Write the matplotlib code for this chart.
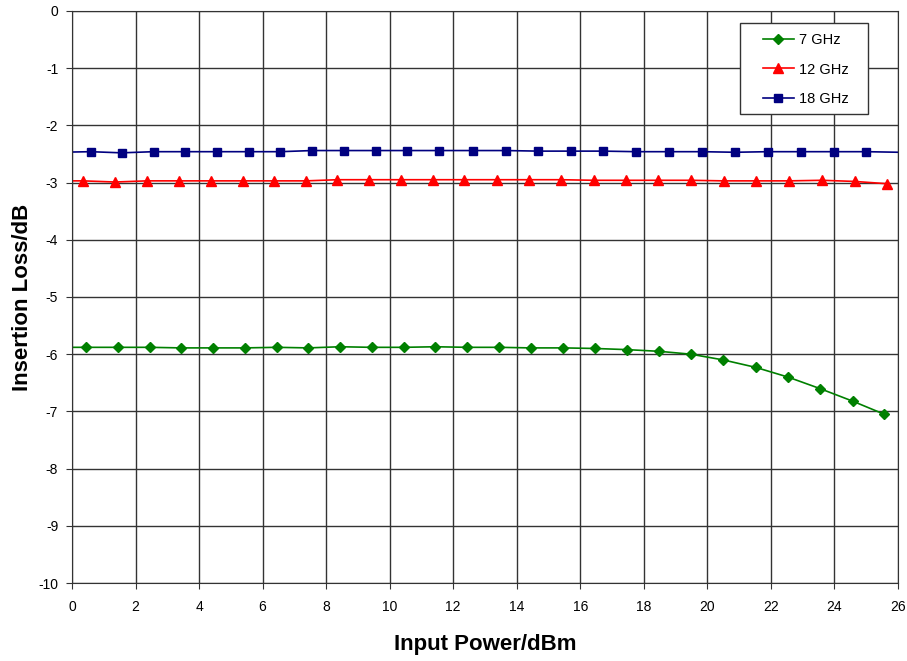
import numpy as np
import matplotlib
matplotlib.use('Agg')
import matplotlib.pyplot as plt
from matplotlib.patches import Rectangle

plt.rcParams['font.family'] = ['Liberation Sans', 'DejaVu Sans']
plt.rcParams['axes.unicode_minus'] = False

# 7 GHz (first point lies just left of the axis, drawn as line only)
x_7 = [-0.56, 0.44, 1.44, 2.44, 3.44, 4.44, 5.44, 6.44, 7.44, 8.44, 9.44, 10.44, 11.44, 12.44,
       13.44, 14.44, 15.46, 16.46, 17.46, 18.49, 19.48, 20.5, 21.52, 22.54, 23.54, 24.57, 25.57]
y_7 = [-5.88, -5.88, -5.88, -5.88, -5.89, -5.89, -5.89, -5.88, -5.89, -5.87, -5.88, -5.88, -5.87, -5.88,
       -5.88, -5.89, -5.89, -5.90, -5.92, -5.95, -6.00, -6.10, -6.23, -6.40, -6.60, -6.82, -7.05]

# 12 GHz
x_12 = [-0.66, 0.34, 1.36, 2.36, 3.37, 4.36, 5.37, 6.37, 7.37, 8.35, 9.36, 10.36, 11.37, 12.35,
        13.37, 14.38, 15.4, 16.42, 17.43, 18.45, 19.48, 20.51, 21.53, 22.58, 23.6, 24.64, 25.66]
y_12 = [-2.97, -2.97, -2.99, -2.97, -2.97, -2.97, -2.97, -2.97, -2.97, -2.95, -2.95, -2.95, -2.95, -2.95,
        -2.95, -2.95, -2.95, -2.96, -2.96, -2.96, -2.96, -2.97, -2.97, -2.97, -2.96, -2.98, -3.02]

# 18 GHz (first and last points lie outside the axis)
x_18 = [-0.42, 0.59, 1.56, 2.57, 3.57, 4.57, 5.57, 6.55, 7.56, 8.56, 9.56, 10.56, 11.55, 12.61,
        13.65, 14.68, 15.7, 16.72, 17.77, 18.79, 19.84, 20.87, 21.9, 22.94, 23.98, 25.01, 26.03]
y_18 = [-2.47, -2.46, -2.48, -2.46, -2.46, -2.46, -2.46, -2.46, -2.44, -2.44, -2.44, -2.44, -2.44, -2.44,
        -2.44, -2.45, -2.45, -2.45, -2.46, -2.46, -2.46, -2.47, -2.46, -2.46, -2.46, -2.46, -2.47]

fig = plt.figure(figsize=(9.07, 6.61), dpi=100)
ax = fig.add_axes([0.0794, 0.118, 0.9106, 0.8654])

ax.plot(x_7, y_7, color='#008000', lw=1.2, marker='D', ms=5, markevery=slice(1, None), label='7 GHz')
ax.plot(x_12, y_12, color='#FF0000', lw=1.2, marker='^', ms=6.5, markevery=slice(1, None), label='12 GHz')
ax.plot(x_18, y_18, color='#000080', lw=1.2, marker='s', ms=6, markevery=slice(1, -1), label='18 GHz')

ax.set_xlim(0, 26)
ax.set_ylim(-10, 0)
ax.set_xticks(np.arange(0, 27, 2))
ax.set_yticks(np.arange(-10, 1, 1))
ax.grid(True, color='#333333', lw=1)
ax.set_axisbelow(True)
for s in ax.spines.values():
    s.set_color('#333333')
ax.tick_params(direction='out', length=4, color='#333333', labelsize=10)
ax.tick_params(axis='x', pad=8)
ax.tick_params(axis='y', pad=6)

ax.set_xlabel('Input Power/dBm', fontsize=16, fontweight='bold', va='center')
ax.xaxis.set_label_coords(0.5006, -0.108)
ax.set_ylabel('Insertion Loss/dB', fontsize=16, fontweight='bold', va='center')
ax.yaxis.set_label_coords(-0.0605, 0.5)

# legend box drawn separately so its size matches the original
ax.add_patch(Rectangle((0.8087, 0.820), 0.155, 0.159, transform=ax.transAxes,
                       facecolor='white', edgecolor='#333333', lw=1, zorder=5))
leg = ax.legend(loc='upper left', bbox_to_anchor=(0.8366, 0.961), fontsize=10.5, frameon=False,
                handlelength=2.1, handletextpad=0.35, labelspacing=1.05, borderpad=0,
                borderaxespad=0)
leg.set_zorder(6)

fig.savefig('out.png', dpi=100)
